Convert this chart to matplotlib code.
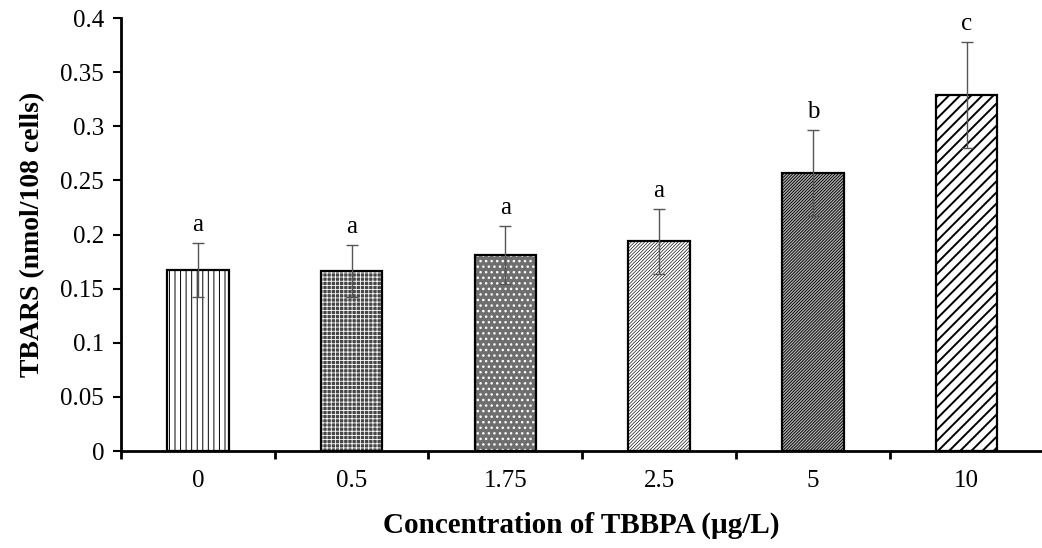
import matplotlib.pyplot as plt
import numpy as np

plt.rcParams["font.family"] = ["Liberation Serif", "DejaVu Serif"]

concentrations = ["0", "0.5", "1.75", "2.5", "5", "10"]
tbars = [0.167, 0.166, 0.181, 0.194, 0.257, 0.329]
tbars_err = [0.025, 0.024, 0.027, 0.030, 0.040, 0.049]
letters = ["a", "a", "a", "a", "b", "c"]

# fill, hatch colour, hatch pattern, hatch line width for each bar
bar_styles = [
    ("white", "black", "|||", 0.7),
    ("#474747", "white", "++++", 0.6),
    ("#6e6e6e", "white", "...", 1.0),
    ("white", "black", "//////////", 0.45),
    ("#b4b4b4", "black", "///////////", 0.65),
    ("white", "black", "///", 1.4),
]

fig = plt.figure(figsize=(10.42, 5.48), dpi=100)
ax = fig.add_axes([0.116, 0.177, 0.884, 0.79])

x = np.arange(len(concentrations))
width = 0.40

for i, (fc, hc, hatch, hlw) in enumerate(bar_styles):
    with plt.rc_context({"hatch.linewidth": hlw}):
        ax.bar(x[i], tbars[i], width, color=fc, edgecolor=hc, hatch=hatch,
               linewidth=0, zorder=2)
    ax.bar(x[i], tbars[i], width, facecolor="none", edgecolor="black",
           linewidth=1.6, zorder=3)

ax.errorbar(x, tbars, yerr=tbars_err, fmt="none", ecolor="#555555",
            elinewidth=1.0, capsize=4, capthick=1.0, zorder=4)

for xi, v, e, lab in zip(x, tbars, tbars_err, letters):
    ax.annotate(lab, (xi, v + e), xytext=(0, 5), textcoords="offset points",
                ha="center", va="bottom", fontsize=18)

ax.set_xlim(-0.5, 5.49)
ax.set_ylim(0, 0.4)
ax.set_yticks(np.arange(0, 0.401, 0.05))
ax.set_yticklabels(["0", "0.05", "0.1", "0.15", "0.2", "0.25", "0.3", "0.35", "0.4"])
ax.set_xticks(x)
ax.set_xticklabels(concentrations)
ax.set_xticks(np.arange(-0.5, 5.5, 1.0), minor=True)
ax.tick_params(axis="x", which="major", length=0, pad=14, labelsize=18)
ax.tick_params(axis="x", which="minor", length=6, width=2, direction="out")
ax.tick_params(axis="y", length=6, width=1.5, direction="out", labelsize=18, pad=6)

for side in ["top", "right"]:
    ax.spines[side].set_visible(False)
for side in ["left", "bottom"]:
    ax.spines[side].set_linewidth(2)

ax.set_ylabel("TBARS (nmol/108 cells)", fontsize=20, fontweight="bold", labelpad=11)
ax.set_xlabel("Concentration of TBBPA (µg/L)", fontsize=21, fontweight="bold", labelpad=14)

fig.savefig("out.png", dpi=100)
